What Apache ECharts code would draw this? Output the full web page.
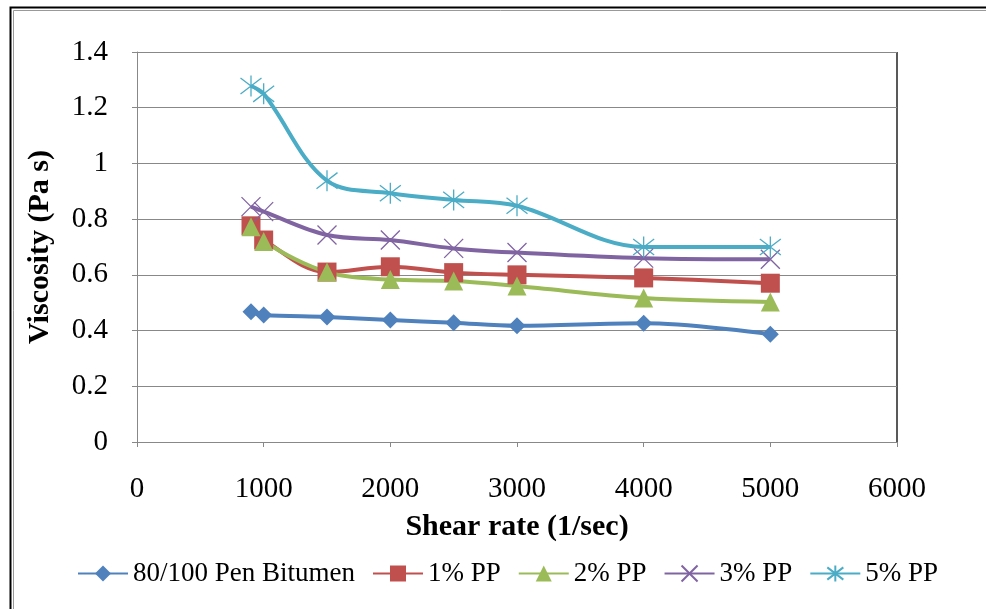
<!DOCTYPE html>
<html lang="en">
<head>
    <meta charset="utf-8">
    <script src="https://cdn.jsdelivr.net/npm/echarts@6/dist/echarts.min.js"></script>
    <title>viscosity</title>
</head>
<body>
<style>
    html, body, #main {
        width: 100%;
        height: 100%;
        margin: 0;
        background: #fff;
    }
</style>
<div id='main'></div>
<script>
    // shear rate (1/sec)
    var shearRate = [900, 1000, 1500, 2000, 2500, 3000, 4000, 5000];
    var names = ['80/100 Pen Bitumen', '1% PP', '2% PP', '3% PP', '5% PP'];
    var bitumen = [0.468, 0.456, 0.449, 0.438, 0.428, 0.417, 0.426, 0.387];
    var pp1 = [0.776, 0.725, 0.61, 0.629, 0.608, 0.60, 0.589, 0.57];
    var pp2 = [0.773, 0.72, 0.61, 0.583, 0.578, 0.56, 0.517, 0.503];
    var pp3 = [0.845, 0.827, 0.743, 0.725, 0.695, 0.68, 0.66, 0.656];
    var pp5 = [1.278, 1.25, 0.938, 0.893, 0.869, 0.848, 0.70, 0.70];

    var colors = ['#4F81BD', '#C0504D', '#9BBB59', '#8064A2', '#4BACC6'];
    var symbols = [
        'diamond',
        'rect',
        'triangle',
        'path://M0,0L10,10M10,0L0,10',
        'path://M0,0L10,10M10,0L0,10M5,-1.5L5,11.5'
    ];
    var sizes = [17, 19, 19, 19, 21];
    var allData = [bitumen, pp1, pp2, pp3, pp5];

    var font = '"Liberation Serif", "Times New Roman", serif';

    function pairs(ys) {
        var out = [];
        for (var i = 0; i < shearRate.length; i++) {
            out.push([shearRate[i], ys[i]]);
        }
        return out;
    }

    var series = [];
    for (var i = 0; i < names.length; i++) {
        var stroked = i >= 3;
        series.push({
            name: names[i],
            type: 'line',
            smooth: 0.35,
            data: pairs(allData[i]),
            symbol: symbols[i],
            symbolSize: sizes[i],
            showAllSymbol: true,
            lineStyle: {color: colors[i], width: 4},
            itemStyle: stroked ? {
                color: 'rgba(0,0,0,0)',
                borderColor: colors[i],
                borderWidth: 1.3
            } : {color: colors[i]},
            emphasis: {disabled: true}
        });
    }

    var chart = echarts.init(document.getElementById('main'));
    var option = {
        animation: false,
        color: colors,
        textStyle: {fontFamily: font},
        grid: {left: 137, top: 52, right: 89, bottom: 167, show: false},
        graphic: [
            {type: 'rect', shape: {x: 10.5, y: 7.5, width: 1000, height: 700},
                style: {fill: null, stroke: '#000', lineWidth: 2}},
            {type: 'rect', shape: {x: 13.5, y: 10.5, width: 1000, height: 700},
                style: {fill: null, stroke: '#999', lineWidth: 1}},
            {type: 'line', shape: {x1: 897, y1: 52, x2: 897, y2: 442},
                style: {stroke: '#222', lineWidth: 1.5}}
        ],
        legend: {
            data: names,
            left: 72,
            top: 555,
            itemWidth: 50,
            itemHeight: 20,
            itemGap: 17,
            textStyle: {fontFamily: font, fontSize: 27, color: '#000'}
        },
        xAxis: {
            type: 'value',
            min: 0,
            max: 6000,
            interval: 1000,
            name: 'Shear rate (1/sec)',
            nameLocation: 'middle',
            nameGap: 70,
            nameTextStyle: {fontFamily: font, fontSize: 30, fontWeight: 'bold', color: '#000'},
            axisLine: {lineStyle: {color: '#888'}},
            axisTick: {show: true, length: 5, lineStyle: {color: '#888'}},
            axisLabel: {
                fontFamily: font, fontSize: 29, color: '#000', margin: 33,
                formatter: function (v) { return String(v); }
            },
            splitLine: {show: false}
        },
        yAxis: {
            type: 'value',
            min: 0,
            max: 1.4,
            interval: 0.2,
            name: 'Viscosity (Pa s)',
            nameLocation: 'middle',
            nameGap: 82,
            nameTextStyle: {fontFamily: font, fontSize: 30, fontWeight: 'bold', color: '#000'},
            axisLine: {show: true, lineStyle: {color: '#888'}},
            axisTick: {show: true, length: 5, lineStyle: {color: '#888'}},
            axisLabel: {fontFamily: font, fontSize: 29, color: '#000', margin: 29},
            splitLine: {lineStyle: {color: '#888', width: 1}}
        },
        series: series
    };
    chart.setOption(option);
    window.onresize = chart.resize;
</script>
</body>
</html>
